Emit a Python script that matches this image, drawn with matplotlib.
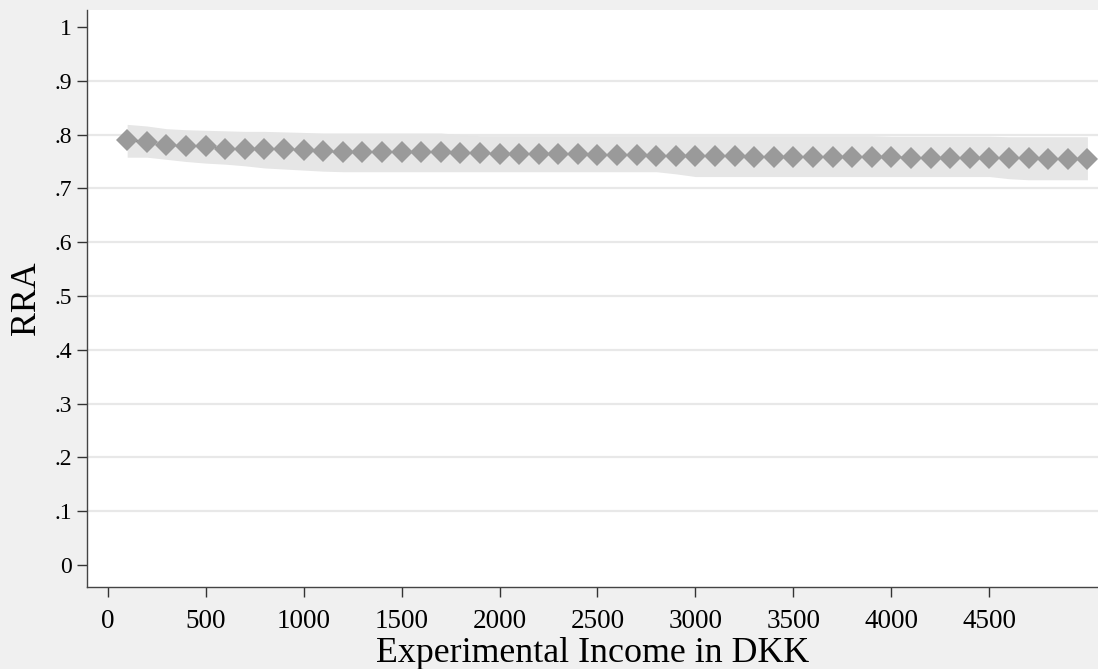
import matplotlib
matplotlib.use('Agg')
import matplotlib.pyplot as plt

plt.rcParams['font.family'] = ['Liberation Serif', 'DejaVu Serif']

# income grid (DKK)
income = [100, 200, 300, 400, 500, 600, 700, 800, 900, 1000,
          1100, 1200, 1300, 1400, 1500, 1600, 1700, 1800, 1900, 2000,
          2100, 2200, 2300, 2400, 2500, 2600, 2700, 2800, 2900, 3000,
          3100, 3200, 3300, 3400, 3500, 3600, 3700, 3800, 3900, 4000,
          4100, 4200, 4300, 4400, 4500, 4600, 4700, 4800, 4900, 5000]

rra = [.790, .786, .780, .779, .778, .774, .774, .774, .774, .772,
       .769, .768, .768, .768, .767, .767, .767, .766, .765, .764,
       .764, .763, .763, .763, .762, .762, .762, .761, .761, .760,
       .760, .760, .759, .759, .759, .758, .758, .758, .758, .758,
       .757, .757, .757, .757, .757, .756, .756, .755, .755, .755]

rra_hi = [.819, .816, .811, .809, .808, .807, .806, .806, .805, .804,
          .803, .803, .803, .803, .803, .803, .803, .800, .798, .798,
          .798, .798, .798, .798, .798, .798, .798, .798, .798, .798,
          .798, .798, .798, .798, .798, .798, .798, .798, .798, .797,
          .797, .797, .797, .797, .797, .796, .796, .796, .796, .796]

rra_lo = [.758, .758, .754, .750, .747, .745, .742, .738, .736, .734,
          .732, .731, .731, .731, .731, .731, .731, .731, .731, .731,
          .731, .731, .731, .731, .731, .731, .731, .731, .727, .722,
          .722, .722, .722, .722, .722, .722, .722, .722, .722, .722,
          .722, .722, .722, .722, .722, .718, .716, .716, .716, .716]

xticks = [0, 500, 1000, 1500, 2000, 2500, 3000, 3500, 4000, 4500]
yticks = [0, .1, .2, .3, .4, .5, .6, .7, .8, .9, 1]
ylabels = ['0', '.1', '.2', '.3', '.4', '.5', '.6', '.7', '.8', '.9', '1']

fig = plt.figure(figsize=(10.98, 6.69), dpi=100, facecolor='#f0f0f0')
ax = fig.add_axes([87 / 1098, 1 - 587 / 669, 1 - 87 / 1098, 577 / 669])
ax.set_facecolor('white')

# grid lines (not at 0 or 1)
for yv in yticks[1:-1]:
    ax.axhline(yv, color='#e8e8e8', lw=1.6, zorder=0)

ax.fill_between(income, rra_lo, rra_hi, color='#e6e6e6', lw=0, zorder=1)
ax.plot(income, rra, color='black', lw=0.8, ls=(0, (2, 2)), zorder=2)
ax.plot(income, rra, ls='none', marker='D', ms=10.8, color='#9a9a9a',
        mew=0, zorder=3)

ax.set_xlim(-105, 5054)
ax.set_ylim(-0.041, 1.0316)

ax.set_xticks(xticks)
ax.set_yticks(yticks)
ax.set_yticklabels(ylabels)
ax.tick_params(axis='x', labelsize=19.5, length=7, width=1, color='#333333', pad=9)
ax.tick_params(axis='y', labelsize=17, length=7, width=1, color='#333333', pad=4)

for s in ['top', 'right']:
    ax.spines[s].set_visible(False)
for s in ['left', 'bottom']:
    ax.spines[s].set_color('#444444')
    ax.spines[s].set_linewidth(1)

ax.set_xlabel('Experimental Income in DKK', fontsize=25.8, labelpad=2)
ax.set_ylabel('RRA', fontsize=25.8, labelpad=8)

fig.savefig('out.png', dpi=100, facecolor=fig.get_facecolor())
